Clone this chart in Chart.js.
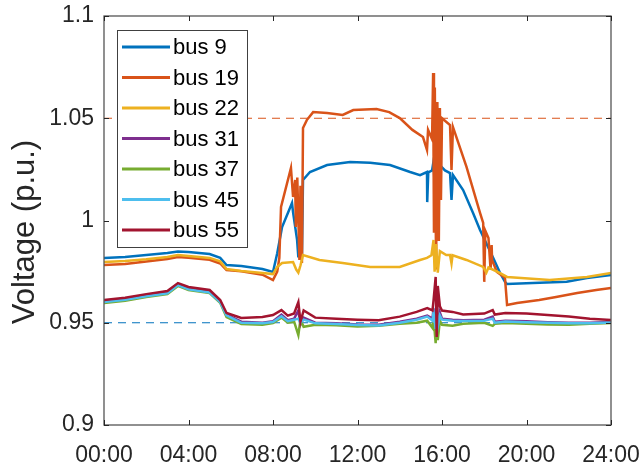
<!DOCTYPE html>
<html>
<head>
<meta charset="utf-8">
<script src="https://cdn.jsdelivr.net/npm/chart.js@4.4.1/dist/chart.umd.min.js"></script>
<style>
html, body { margin: 0; padding: 0; background: #fff; }
</style>
</head>
<body>
<canvas id="voltChart" width="644" height="466"></canvas>
<script>
// bus names, legend order
const busNames = ['bus 9', 'bus 19', 'bus 22', 'bus 31', 'bus 37', 'bus 45', 'bus 55'];
const busColors = ['#0072BD', '#D95319', '#EDB120', '#7E2F8E', '#77AC30', '#4DBEEE', '#A2142F'];

// voltage limits (dashed lines)
const limitValues = [1.05, 0.95];
const limitColors = ['#D95319', '#0072BD'];

// axis ticks
const hourTicks = [0, 4, 8, 12, 16, 20, 24];
const voltTicks = [0.9, 0.95, 1, 1.05, 1.1];

// hours of day
const hours9 = [0, 1, 2, 3, 3.5, 4, 5, 5.5, 5.8, 6.5, 7.5, 8, 8.2, 8.43, 8.9, 8.95, 9.14, 9.2, 9.3, 9.37,
  9.42, 9.75, 10.56, 11.65, 12.6, 13.54, 14.49, 14.96, 15.29, 15.3, 15.35, 15.53, 15.6, 15.7, 15.76, 15.8,
  15.91, 16.14, 16.38, 16.45, 16.52, 17, 17.47, 17.8, 18.41, 18.75, 18.98, 19.08, 20.3, 21.9, 22.86, 24];
const bus9 = [0.9817, 0.9822, 0.9831, 0.9841, 0.9848, 0.9846, 0.9836, 0.9817, 0.9782, 0.9778,
  0.9763, 0.9748, 0.9840, 0.9968, 1.0086, 1.0040, 0.9905, 0.9820, 0.9950, 0.9820,
  1.0198, 1.0237, 1.0271, 1.0286, 1.0282, 1.0271, 1.0237, 1.0222, 1.0237, 1.0090,
  1.0235, 1.0245, 1.0290, 1.0050, 0.9988, 1.0310, 1.0270, 1.0245, 1.0232, 1.0100,
  1.0222, 1.0149, 1.0037, 0.9954, 0.9820, 0.9743, 0.9700, 0.9689, 0.9694, 0.9700,
  0.9719, 0.9733];

const hours19 = [0, 1, 2, 3, 3.5, 4, 5, 5.5, 5.8, 6.5, 7.5, 8, 8.2, 8.3, 8.38, 8.85, 8.95, 9.05, 9.08, 9.15,
  9.25, 9.3, 9.37, 9.42, 9.6, 9.9, 10.56, 11.3, 11.8, 12.9, 13.5, 14, 14.6, 15.1, 15.29, 15.34, 15.53, 15.58,
  15.62, 15.66, 15.72, 15.78, 15.85, 15.9, 15.95, 16, 16.38, 16.45, 16.52, 17.16, 17.8, 17.95, 18, 18.05,
  18.2, 18.3, 18.35, 18.37, 18.6, 18.98, 19.08, 19.55, 20.6, 21.4, 22.4, 23.3, 24];
const bus19 = [0.9782, 0.9787, 0.9800, 0.9812, 0.9822, 0.9818, 0.9808, 0.9790, 0.9758, 0.9752,
  0.9735, 0.9709, 0.9750, 0.9817, 1.0066, 1.0257, 1.0115, 1.0198, 0.9968, 1.0210,
  0.9807, 1.0170, 0.9792, 1.0452, 1.0491, 1.0530, 1.0526, 1.0516, 1.0540, 1.0545,
  1.0530, 1.0501, 1.0443, 1.0408, 1.0345, 1.0443, 1.0398, 1.0721, 0.9940, 1.0650,
  0.9760, 1.0580, 0.9900, 1.0550, 1.0100, 1.0500, 1.0467, 1.0247, 1.0457, 1.0262,
  1.0037, 0.9988, 0.9700, 0.9950, 0.9914, 0.9760, 0.9880, 0.9807, 0.9748, 0.9720,
  0.9587, 0.9597, 0.9611, 0.9626, 0.9645, 0.9660, 0.9670];

const hours22 = [0, 1, 2, 3, 3.5, 4, 5, 5.5, 5.8, 6.5, 7.5, 8, 8.2, 8.43, 8.95, 9.1, 9.2, 9.3, 9.42, 10.2,
  11.3, 12.6, 14, 14.96, 15.29, 15.5, 15.6, 15.65, 15.72, 15.8, 15.9, 16.2, 16.38, 16.45, 16.5, 17.16,
  17.95, 18.1, 18.2, 18.75, 19.08, 21.1, 22.86, 24];
const bus22 = [0.9797, 0.9802, 0.9810, 0.9822, 0.9831, 0.9826, 0.9817, 0.9800, 0.9763, 0.9753,
  0.9743, 0.9738, 0.9773, 0.9792, 0.9797, 0.9760, 0.9745, 0.9780, 0.9831, 0.9807,
  0.9792, 0.9773, 0.9773, 0.9807, 0.9817, 0.9830, 0.9905, 0.9750, 0.9885, 0.9745,
  0.9850, 0.9831, 0.9831, 0.9790, 0.9830, 0.9807, 0.9773, 0.9745, 0.9770, 0.9743,
  0.9724, 0.9709, 0.9724, 0.9743];

// the four low buses share one time base
const hoursLow = [0, 1, 2, 3, 3.5, 4, 5, 5.5, 5.8, 6.5, 7.5, 8, 8.4, 8.7, 9, 9.2, 9.3, 9.45, 10, 11,
  12, 13, 14, 14.8, 15.3, 15.55, 15.6, 15.7, 15.75, 15.8, 15.9, 16, 16.5, 17, 18, 18.4, 18.5, 19, 20, 21,
  22, 23, 24];
const bus31 = [0.9605, 0.9616, 0.9634, 0.9648, 0.9688, 0.9668, 0.9652, 0.9605, 0.9540, 0.9505,
  0.9500, 0.9508, 0.9540, 0.9512, 0.9520, 0.9560, 0.9490, 0.9525, 0.9500, 0.9497,
  0.9492, 0.9490, 0.9505, 0.9520, 0.9535, 0.9520, 0.9570, 0.9450, 0.9640, 0.9460,
  0.9550, 0.9520, 0.9515, 0.9512, 0.9515, 0.9530, 0.9505, 0.9510, 0.9507, 0.9503,
  0.9500, 0.9500, 0.9504];
const bus37 = [0.9597, 0.9608, 0.9626, 0.9640, 0.9680, 0.9660, 0.9645, 0.9598, 0.9528, 0.9494,
  0.9490, 0.9499, 0.9525, 0.9500, 0.9505, 0.9440, 0.9515, 0.9480, 0.9490, 0.9488,
  0.9482, 0.9485, 0.9495, 0.9500, 0.9510, 0.9475, 0.9525, 0.9400, 0.9560, 0.9415,
  0.9510, 0.9490, 0.9485, 0.9495, 0.9500, 0.9485, 0.9495, 0.9499, 0.9495, 0.9492,
  0.9490, 0.9495, 0.9499];
const bus45 = [0.9601, 0.9612, 0.9630, 0.9644, 0.9684, 0.9664, 0.9648, 0.9601, 0.9536, 0.9500,
  0.9497, 0.9504, 0.9532, 0.9508, 0.9515, 0.9520, 0.9500, 0.9515, 0.9497, 0.9494,
  0.9489, 0.9487, 0.9500, 0.9515, 0.9530, 0.9510, 0.9550, 0.9470, 0.9600, 0.9480,
  0.9535, 0.9515, 0.9510, 0.9508, 0.9510, 0.9520, 0.9500, 0.9506, 0.9503, 0.9500,
  0.9497, 0.9497, 0.9501];
const bus55 = [0.9611, 0.9622, 0.9640, 0.9655, 0.9694, 0.9675, 0.9660, 0.9611, 0.9548, 0.9523,
  0.9528, 0.9538, 0.9562, 0.9535, 0.9545, 0.9601, 0.9505, 0.9560, 0.9525, 0.9520,
  0.9515, 0.9512, 0.9530, 0.9553, 0.9572, 0.9560, 0.9610, 0.9724, 0.9430, 0.9680,
  0.9580, 0.9560, 0.9553, 0.9540, 0.9545, 0.9562, 0.9540, 0.9548, 0.9545, 0.9538,
  0.9530, 0.9520, 0.9513];

const busHours = [hours9, hours19, hours22, hoursLow, hoursLow, hoursLow, hoursLow];
const busValues = [bus9, bus19, bus22, bus31, bus37, bus45, bus55];

const FONT = "'Liberation Sans', Arial, sans-serif";
const TEXT = '#262626';

function toPoints(h, v) {
  return h.map((t, i) => ({ x: t, y: v[i] }));
}

const datasets = [];
limitValues.forEach((v, i) => {
  datasets.push({
    label: 'limit',
    data: [{ x: 0, y: v }, { x: 24, y: v }],
    borderColor: limitColors[i],
    borderWidth: 1,
    borderDash: [8, 6],
    pointRadius: 0,
    order: 20
  });
});
busNames.forEach((name, i) => {
  datasets.push({
    label: name,
    data: toPoints(busHours[i], busValues[i]),
    borderColor: busColors[i],
    borderWidth: 2.5,
    pointRadius: 0,
    tension: 0,
    order: 10 - i // later buses drawn on top, like matlab
  });
});

// box, inward ticks, y label and legend drawn on top
const framePlugin = {
  id: 'frame',
  afterDraw(chart) {
    const ctx = chart.ctx;
    const a = chart.chartArea;
    const xs = chart.scales.x, ys = chart.scales.y;
    ctx.save();

    // legend
    const lx = 117, ly = 30, lw = 130, lh = 217;
    ctx.fillStyle = '#fff';
    ctx.fillRect(lx, ly, lw, lh);
    ctx.strokeStyle = '#404040';
    ctx.lineWidth = 1;
    ctx.strokeRect(lx + 0.5, ly + 0.5, lw, lh);
    ctx.font = '22px ' + FONT;
    ctx.textBaseline = 'middle';
    ctx.textAlign = 'left';
    busNames.forEach((name, i) => {
      const yy = 47 + i * 30.5;
      ctx.strokeStyle = busColors[i];
      ctx.lineWidth = 3;
      ctx.beginPath();
      ctx.moveTo(122, yy);
      ctx.lineTo(170, yy);
      ctx.stroke();
      ctx.fillStyle = '#000';
      ctx.fillText(name, 173, yy + 1);
    });

    // axes box
    ctx.strokeStyle = '#555';
    ctx.lineWidth = 1.3;
    ctx.strokeRect(a.left, a.top, a.right - a.left, a.bottom - a.top);
    ctx.lineWidth = 1;
    ctx.strokeStyle = '#262626';
    ctx.beginPath();
    hourTicks.forEach(h => {
      const px = Math.round(xs.getPixelForValue(h)) + 0.5;
      ctx.moveTo(px, a.bottom); ctx.lineTo(px, a.bottom - 5);
      ctx.moveTo(px, a.top); ctx.lineTo(px, a.top + 5);
    });
    voltTicks.forEach(v => {
      const py = Math.round(ys.getPixelForValue(v)) + 0.5;
      ctx.moveTo(a.left, py); ctx.lineTo(a.left + 5, py);
      ctx.moveTo(a.right, py); ctx.lineTo(a.right - 5, py);
    });
    ctx.stroke();

    // y axis title
    ctx.translate(25, 232);
    ctx.rotate(-Math.PI / 2);
    ctx.textAlign = 'center';
    ctx.fillStyle = TEXT;
    ctx.font = '31px ' + FONT;
    ctx.fillText('Voltage (p.u.)', 0, 0);
    ctx.restore();
  }
};

new Chart(document.getElementById('voltChart'), {
  type: 'line',
  data: { datasets: datasets },
  options: {
    responsive: false,
    animation: false,
    devicePixelRatio: 1,
    layout: { padding: { left: 0, right: 33, top: 16, bottom: 0 } },
    plugins: {
      legend: { display: false },
      tooltip: { enabled: false }
    },
    scales: {
      x: {
        type: 'linear',
        min: 0,
        max: 24,
        afterFit(scale) {
          scale.height = 41;
          scale.paddingLeft = 0;
          scale.paddingRight = 0;
        },
        afterBuildTicks(scale) { scale.ticks = hourTicks.map(v => ({ value: v })); },
        grid: { display: false, drawTicks: false },
        border: { display: false },
        ticks: {
          padding: 17,
          color: TEXT,
          font: { family: FONT, size: 23 },
          maxRotation: 0,
          callback: v => String(v).padStart(2, '0') + ':00'
        }
      },
      y: {
        type: 'linear',
        min: 0.9,
        max: 1.1,
        afterFit(scale) {
          scale.width = 104;
          scale.paddingTop = 0;
          scale.paddingBottom = 0;
        },
        afterBuildTicks(scale) { scale.ticks = voltTicks.map(v => ({ value: v })); },
        grid: { display: false, drawTicks: false },
        border: { display: false },
        ticks: {
          padding: 10,
          color: TEXT,
          font: { family: FONT, size: 23 },
          callback: v => String(+v.toFixed(2))
        }
      }
    }
  },
  plugins: [framePlugin]
});
</script>
</body>
</html>
